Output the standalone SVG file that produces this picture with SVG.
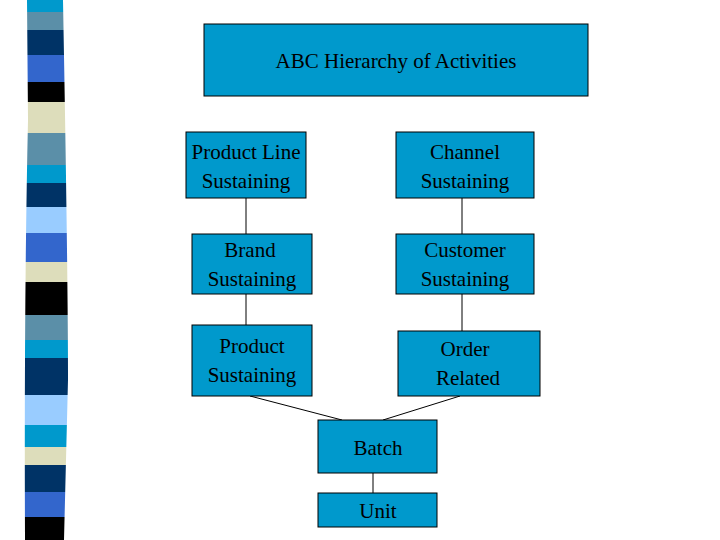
<svg xmlns="http://www.w3.org/2000/svg" width="720" height="540" viewBox="0 0 720 540">
<style>
.n{fill:#0099cc;stroke:#000;stroke-width:1}
.t{font-family:"Liberation Serif",serif;font-size:21px;fill:#000;text-anchor:middle}
.c{stroke:#000;stroke-width:1;fill:none}
</style>
<defs><clipPath id="cp"><path d="M27,0 L63,0 Q68,270 68,380 L64,540 L25,540 Q24,300 28,120 Z"/></clipPath></defs>
<rect width="720" height="540" fill="#fff"/>
<g id="stripe" clip-path="url(#cp)">
<rect x="0" y="0" width="80" height="12" fill="#0099cc"/>
<rect x="0" y="12" width="80" height="18" fill="#5b8fa8"/>
<rect x="0" y="30" width="80" height="25" fill="#003366"/>
<rect x="0" y="55" width="80" height="27" fill="#3366cc"/>
<rect x="0" y="82" width="80" height="20" fill="#000"/>
<rect x="0" y="102" width="80" height="31" fill="#ddddbb"/>
<rect x="0" y="133" width="80" height="32" fill="#5b8fa8"/>
<rect x="0" y="165" width="80" height="18" fill="#0099cc"/>
<rect x="0" y="183" width="80" height="24" fill="#003366"/>
<rect x="0" y="207" width="80" height="26" fill="#99ccff"/>
<rect x="0" y="233" width="80" height="29" fill="#3366cc"/>
<rect x="0" y="262" width="80" height="20" fill="#ddddbb"/>
<rect x="0" y="282" width="80" height="33" fill="#000"/>
<rect x="0" y="315" width="80" height="25" fill="#5b8fa8"/>
<rect x="0" y="340" width="80" height="18" fill="#0099cc"/>
<rect x="0" y="358" width="80" height="37" fill="#003366"/>
<rect x="0" y="395" width="80" height="30" fill="#99ccff"/>
<rect x="0" y="425" width="80" height="22" fill="#0099cc"/>
<rect x="0" y="447" width="80" height="18" fill="#ddddbb"/>
<rect x="0" y="465" width="80" height="27" fill="#003366"/>
<rect x="0" y="492" width="80" height="25" fill="#3366cc"/>
<rect x="0" y="517" width="80" height="23" fill="#000"/>
</g>
<g id="connectors">
<line class="c" x1="246" y1="198" x2="246" y2="234"/>
<line class="c" x1="462" y1="198" x2="462" y2="234"/>
<line class="c" x1="246" y1="294" x2="246" y2="325"/>
<line class="c" x1="462" y1="294" x2="462" y2="331"/>
<line class="c" x1="250" y1="396" x2="342" y2="420"/>
<line class="c" x1="460" y1="396" x2="383" y2="420"/>
<line class="c" x1="373" y1="473" x2="373" y2="493"/>
</g>
<g id="title"><rect class="n" x="204" y="24" width="384" height="72"/><text class="t" x="396" y="68">ABC Hierarchy of Activities</text></g>
<g id="pls"><rect class="n" x="186" y="132" width="120" height="66"/><text class="t" x="246" y="159">Product Line</text><text class="t" x="246" y="188">Sustaining</text></g>
<g id="cs"><rect class="n" x="396" y="132" width="138" height="66"/><text class="t" x="465" y="159">Channel</text><text class="t" x="465" y="188">Sustaining</text></g>
<g id="bs"><rect class="n" x="192" y="234" width="120" height="60"/><text class="t" x="250" y="257">Brand</text><text class="t" x="252" y="286">Sustaining</text></g>
<g id="cus"><rect class="n" x="396" y="234" width="138" height="60"/><text class="t" x="465" y="257">Customer</text><text class="t" x="465" y="286">Sustaining</text></g>
<g id="ps"><rect class="n" x="192" y="325" width="120" height="71"/><text class="t" x="252" y="353">Product</text><text class="t" x="252" y="382">Sustaining</text></g>
<g id="or"><rect class="n" x="398" y="331" width="142" height="65"/><text class="t" x="465" y="356">Order</text><text class="t" x="468" y="385">Related</text></g>
<g id="batch"><rect class="n" x="318" y="420" width="119" height="53"/><text class="t" x="378" y="455">Batch</text></g>
<g id="unit"><rect class="n" x="318" y="493" width="119" height="34"/><text class="t" x="378" y="518">Unit</text></g>
</svg>
